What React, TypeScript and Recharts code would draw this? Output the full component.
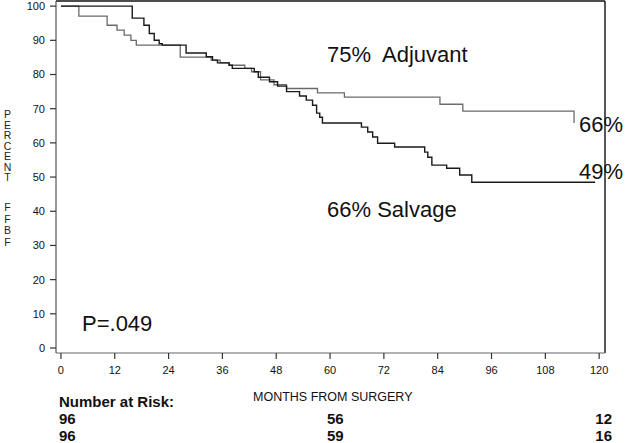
import React from "react";
import { LineChart, Line, XAxis, YAxis, ReferenceLine } from "recharts";

// Kaplan-Meier style steps (months, percent FFBF)
const adjuvantMonths = [0, 4.0, 10.3, 12.5, 14.1, 15.6, 16.8, 26.6, 33.5, 35.5, 37.5, 41.0, 42.5, 44.5, 47.5, 50.3, 57.2, 63.2, 84.5, 89.6, 114.4];
const adjuvantPct = [100, 97.1, 94.4, 93.0, 91.5, 90.0, 88.6, 85.1, 84.2, 83.4, 82.7, 81.8, 80.8, 78.4, 77.0, 75.9, 74.6, 73.4, 71.3, 69.3, 65.8];

const salvageMonths = [0, 15.9, 18.5, 19.7, 20.8, 21.9, 22.6, 27.9, 32.4, 33.8, 34.9, 37.5, 38.2, 43.1, 44.0, 46.5, 48.3, 50.3, 53.2, 54.7, 56.1, 57.0, 57.7, 58.3, 67.0, 68.4, 69.5, 70.6, 74.4, 81.1, 81.8, 82.7, 86.0, 88.9, 91.6, 119.1];
const salvagePct = [100, 96.5, 94.4, 92.0, 90.0, 89.0, 88.6, 86.3, 85.2, 84.2, 83.4, 82.7, 81.8, 80.8, 79.2, 77.9, 76.6, 75.0, 73.7, 72.5, 71.0, 68.7, 67.5, 65.8, 64.6, 63.2, 61.7, 59.9, 58.8, 57.3, 55.8, 53.5, 52.6, 50.6, 48.5, 48.5];

const xTicks = [0, 12, 24, 36, 48, 60, 72, 84, 96, 108, 120];
const yTicks = [0, 10, 20, 30, 40, 50, 60, 70, 80, 90, 100];

const riskAdjuvant = ["96", "56", "12"];
const riskSalvage = ["96", "59", "16"];

const FONT = "'Liberation Sans', Arial, sans-serif";

const adjuvantData = adjuvantMonths.map((m, i) => ({ month: m, pct: adjuvantPct[i] }));
const salvageData = salvageMonths.map((m, i) => ({ month: m, pct: salvagePct[i] }));

function Txt({ left, top, size, bold, children, style }: { left: number; top: number; size: number; bold?: boolean; children: React.ReactNode; style?: React.CSSProperties }) {
  return (
    <div
      style={{
        position: "absolute",
        left,
        top,
        fontSize: size,
        lineHeight: `${size}px`,
        fontWeight: bold ? 700 : 400,
        fontFamily: FONT,
        color: "#111",
        whiteSpace: "pre",
        ...style,
      }}
    >
      {children}
    </div>
  );
}

export default function App() {
  const tickStyle = { fontSize: 11, fill: "#111", fontFamily: FONT };
  return (
    <div style={{ position: "absolute", left: 0, top: 0, width: 625, height: 443, background: "#fff", overflow: "hidden" }}>
      <LineChart width={625} height={443} margin={{ top: 1, right: 20, bottom: 60, left: 6 }}>
        <XAxis
          dataKey="month"
          type="number"
          domain={[-1.1, 121.3]}
          ticks={xTicks}
          allowDataOverflow
          height={30}
          tickSize={6}
          tickMargin={7}
          tick={tickStyle}
          axisLine={{ stroke: "#666", strokeWidth: 1.2 }}
          tickLine={{ stroke: "#333", strokeWidth: 1.2 }}
        />
        <YAxis
          type="number"
          domain={[-1.46, 101.5]}
          ticks={yTicks}
          allowDataOverflow
          width={50}
          tickSize={6}
          tickMargin={5}
          tick={tickStyle}
          axisLine={{ stroke: "#555", strokeWidth: 1.2 }}
          tickLine={{ stroke: "#333", strokeWidth: 1.2 }}
        />
        <ReferenceLine y={101.5} stroke="#111" strokeWidth={1.4} />
        <ReferenceLine x={121.3} stroke="#111" strokeWidth={1.4} />
        <Line
          data={adjuvantData}
          dataKey="pct"
          type="stepAfter"
          stroke="#6a6a6a"
          strokeWidth={1.3}
          dot={false}
          isAnimationActive={false}
        />
        <Line
          data={salvageData}
          dataKey="pct"
          type="stepAfter"
          stroke="#1a1a1a"
          strokeWidth={1.4}
          dot={false}
          isAnimationActive={false}
        />
      </LineChart>

      {/* vertical axis title, stacked letters */}
      <div style={{ position: "absolute", left: 2, top: 109, width: 11, textAlign: "center", fontFamily: FONT, fontSize: 10.5, lineHeight: "10.5px", color: "#222" }}>
        {"PERCENT".split("").map((c, i) => (
          <div key={i}>{c}</div>
        ))}
      </div>
      <div style={{ position: "absolute", left: 2, top: 202, width: 11, textAlign: "center", fontFamily: FONT, fontSize: 10.5, lineHeight: "11.5px", color: "#222" }}>
        {"FFBF".split("").map((c, i) => (
          <div key={i}>{c}</div>
        ))}
      </div>

      <Txt left={327} top={44.4} size={22}>{"75%  Adjuvant"}</Txt>
      <Txt left={579} top={114.4} size={22}>66%</Txt>
      <Txt left={579} top={161.4} size={22}>49%</Txt>
      <Txt left={327} top={199.4} size={22}>66% Salvage</Txt>
      <Txt left={82} top={313.4} size={22}>P=.049</Txt>

      <Txt left={253} top={391.4} size={12.5}>MONTHS FROM SURGERY</Txt>
      <Txt left={59} top={394.3} size={15} bold>Number at Risk:</Txt>
      <Txt left={59} top={411.3} size={15} bold>{riskAdjuvant[0]}</Txt>
      <Txt left={327} top={411.3} size={15} bold>{riskAdjuvant[1]}</Txt>
      <Txt left={0} top={411.3} size={15} bold style={{ left: "auto", right: 13 }}>{riskAdjuvant[2]}</Txt>
      <Txt left={59} top={428.3} size={15} bold>{riskSalvage[0]}</Txt>
      <Txt left={327} top={428.3} size={15} bold>{riskSalvage[1]}</Txt>
      <Txt left={0} top={428.3} size={15} bold style={{ left: "auto", right: 13 }}>{riskSalvage[2]}</Txt>
    </div>
  );
}
